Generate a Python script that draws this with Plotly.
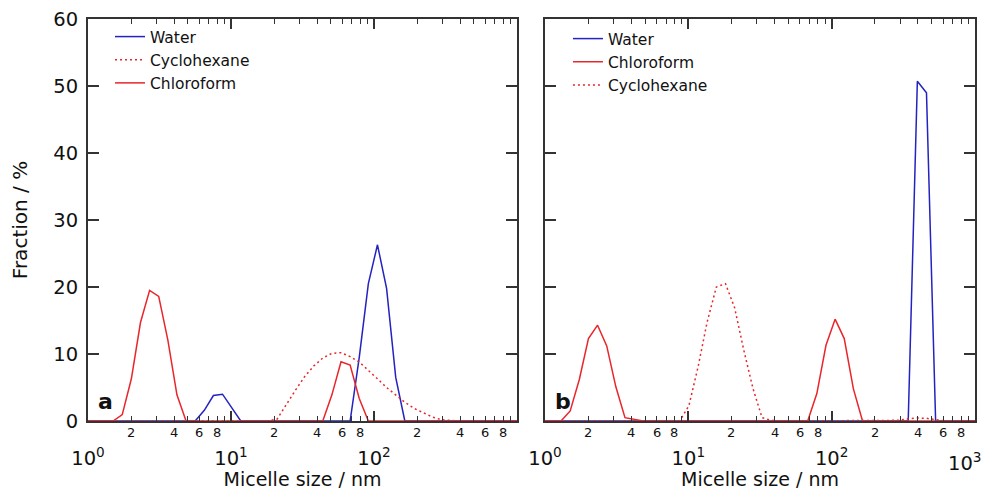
import math
import plotly.graph_objects as go

# DLS size bins (nm)
sizes = [0.8332, 0.9649, 1.117, 1.294, 1.499, 1.736, 2.010, 2.328, 2.696, 3.122,
         3.615, 4.187, 4.849, 5.615, 6.503, 7.531, 8.721, 10.10, 11.70, 13.54,
         15.69, 18.17, 21.04, 24.36, 28.21, 32.67, 37.84, 43.82, 50.75, 58.77,
         68.06, 78.82, 91.28, 105.7, 122.4, 141.8, 164.2, 190.1, 220.2, 255.0,
         295.3, 342.0, 396.1, 458.7, 531.2, 615.1, 712.4, 825.0, 955.4, 1106]

# Panel a
a_water = [0, 0, 0, 0, 0, 0, 0, 0, 0, 0,
           0, 0, 0, 0, 1.6, 3.8, 4.0, 2.0, 0, 0,
           0, 0, 0, 0, 0, 0, 0, 0, 0, 0,
           0, 9.5, 20.5, 26.3, 19.8, 6.5, 0, 0, 0, 0,
           0, 0, 0, 0, 0, 0, 0, 0, 0, 0]
a_cyclohexane = [0, 0, 0, 0, 0, 0, 0, 0, 0, 0,
                 0, 0, 0, 0, 0, 0, 0, 0, 0, 0,
                 0, 0, 0.3, 2.5, 4.6, 6.6, 8.2, 9.4, 10.1, 10.2,
                 9.6, 8.8, 7.6, 6.3, 5.0, 3.9, 2.8, 1.9, 1.2, 0.6,
                 0.2, 0.05, 0, 0, 0, 0, 0, 0, 0, 0]
a_chloroform = [0, 0, 0, 0, 0, 0.95, 6.3, 14.7, 19.5, 18.6,
                12.1, 3.9, 0, 0, 0, 0, 0, 0, 0, 0,
                0, 0, 0, 0, 0, 0, 0, 0, 3.9, 8.85,
                8.35, 3.35, 0, 0, 0, 0, 0, 0, 0, 0,
                0, 0, 0, 0, 0, 0, 0, 0, 0, 0]

# Panel b
b_water = [0, 0, 0, 0, 0, 0, 0, 0, 0, 0,
           0, 0, 0, 0, 0, 0, 0, 0, 0, 0,
           0, 0, 0, 0, 0, 0, 0, 0, 0, 0,
           0, 0, 0, 0, 0, 0, 0, 0, 0, 0,
           0, 0, 50.7, 49.0, 0, 0, 0, 0, 0, 0]
b_chloroform = [0, 0, 0, 0, 1.5, 6.2, 12.3, 14.3, 11.2, 5.1,
                0.5, 0.2, 0, 0, 0, 0, 0, 0, 0, 0,
                0, 0, 0, 0, 0, 0, 0, 0, 0, 0,
                0, 4.1, 11.3, 15.2, 12.3, 4.8, 0, 0, 0, 0,
                0, 0, 0, 0, 0, 0, 0, 0, 0, 0]
b_cyclohexane = [0, 0, 0, 0, 0, 0, 0, 0, 0, 0,
                 0, 0, 0, 0, 0, 0, 0, 2.3, 8.1, 14.8,
                 20.0, 20.5, 16.9, 10.6, 4.9, 0.5, 0.1, 0, 0, 0,
                 0, 0, 0, 0, 0, 0, 0, 0, 0, 0,
                 0.1, 0.35, 0.45, 0.4, 0.15, 0, 0, 0, 0, 0]

decade_vals_a = [1, 10, 100]
decade_text_a = ["10<sup>0</sup>", "10<sup>1</sup>", "10<sup>2</sup>"]
decade_vals_b = [1, 10, 100, 1000]
decade_text_b = ["10<sup>0</sup>", "10<sup>1</sup>", "10<sup>2</sup>", ""]
last_decade_val = 1000
last_decade_text = "10<sup>3</sup>"
minor_vals = [m * d for d in (1, 10, 100) for m in range(2, 10)]
minor_label_vals = [m * d for d in (1, 10, 100) for m in (2, 4, 6, 8)]
y_ticks = [0, 10, 20, 30, 40, 50, 60]

BLUE = "#2323c0"
RED = "#e8262b"
FONT = "DejaVu Sans"
AXC = "#333333"

fig = go.Figure()


def add(xa, ya, name, y, color, dash, legend):
    fig.add_trace(go.Scatter(x=sizes, y=y, mode="lines", name=name,
                             line=dict(color=color, width=1.5, dash=dash),
                             xaxis=xa, yaxis=ya, legend=legend))


add("x", "y", "Water", a_water, BLUE, "solid", "legend")
add("x", "y", "Cyclohexane", a_cyclohexane, RED, "2px,3px", "legend")
add("x", "y", "Chloroform", a_chloroform, RED, "solid", "legend")
add("x2", "y2", "Water", b_water, BLUE, "solid", "legend2")
add("x2", "y2", "Chloroform", b_chloroform, RED, "solid", "legend2")
add("x2", "y2", "Cyclohexane", b_cyclohexane, RED, "2px,3px", "legend2")


def xaxis(domain, anchor, vals, texts):
    return dict(domain=domain, anchor=anchor, type="log", range=[0, 3],
                tickmode="array", tickvals=vals, ticktext=texts,
                ticks="inside", ticklen=10, tickwidth=1.5, tickcolor=AXC,
                ticklabelstandoff=19, automargin=False,
                ticklabeloverflow="allow",
                minor=dict(tickvals=minor_vals, ticks="inside", ticklen=5,
                           tickwidth=1.2, tickcolor=AXC),
                showline=True, linewidth=2, linecolor=AXC, mirror="ticks",
                showgrid=False, zeroline=False,
                tickfont=dict(family=FONT, size=19.5, color="#111"),
                title=dict(text="Micelle size / nm", standoff=0,
                           font=dict(family=FONT, size=19, color="#111")))


def yaxis(anchor, labels):
    d = dict(anchor=anchor, domain=[0, 1], range=[0, 60], tickmode="array",
             tickvals=y_ticks, ticks="inside", ticklen=11, tickwidth=1.5,
             tickcolor=AXC, showline=True, linewidth=2, linecolor=AXC,
             mirror="ticks", showgrid=False, zeroline=False, automargin=False,
             showticklabels=labels, ticklabelstandoff=4,
             ticklabeloverflow="allow",
             tickfont=dict(family=FONT, size=19.5, color="#111"))
    if labels:
        d["title"] = dict(text="Fraction / %", standoff=20,
                          font=dict(family=FONT, size=20, color="#111"))
    return d


annotations = []
for xa, ya in (("x", "y"), ("x2", "y2")):
    for v in minor_label_vals:
        annotations.append(dict(x=math.log10(v), y=0, xref=xa, yref=ya,
                                text=str(v)[0], showarrow=False,
                                yanchor="top", yshift=-2,
                                font=dict(family=FONT, size=13, color="#111")))
# last decade label of panel b, kept inside the visible page edge
annotations.append(dict(x=math.log10(last_decade_val), y=0, xref="x2", yref="y2",
                        text=last_decade_text, showarrow=False,
                        xanchor="right", yanchor="top", xshift=9, yshift=-26,
                        font=dict(family=FONT, size=19.5, color="#111")))
annotations.append(dict(x=0.0175, y=0.012, xref="x domain", yref="y domain",
                        text="<b>a</b>", showarrow=False, xanchor="left",
                        yanchor="bottom",
                        font=dict(family=FONT, size=22, color="#111")))
annotations.append(dict(x=0.0175, y=0.012, xref="x2 domain", yref="y2 domain",
                        text="<b>b</b>", showarrow=False, xanchor="left",
                        yanchor="bottom",
                        font=dict(family=FONT, size=22, color="#111")))

leg = dict(xanchor="left", yanchor="top", bgcolor="rgba(0,0,0,0)",
           borderwidth=0, font=dict(family=FONT, size=15.5, color="#111"),
           tracegroupgap=0)

# The page body adds an 8 px offset; the figure is sized so that the page
# does not overflow the 993x498 window, and margins place the plot areas.
fig.update_layout(
    width=985, height=482,
    margin=dict(l=80, r=18, t=11, b=69, autoexpand=False),
    paper_bgcolor="white", plot_bgcolor="white",
    font=dict(family=FONT, color="#111"),
    xaxis=xaxis([0, 0.4837], "y", decade_vals_a, decade_text_a),
    xaxis2=xaxis([0.5152, 1], "y2", decade_vals_b, decade_text_b),
    yaxis=yaxis("x", True),
    yaxis2=yaxis("x2", False),
    legend=dict(leg, x=0.0248, y=0.9975),
    legend2=dict(leg, x=0.5411, y=0.9925),
    annotations=annotations,
    showlegend=True,
)

fig.write_html("out.html")
